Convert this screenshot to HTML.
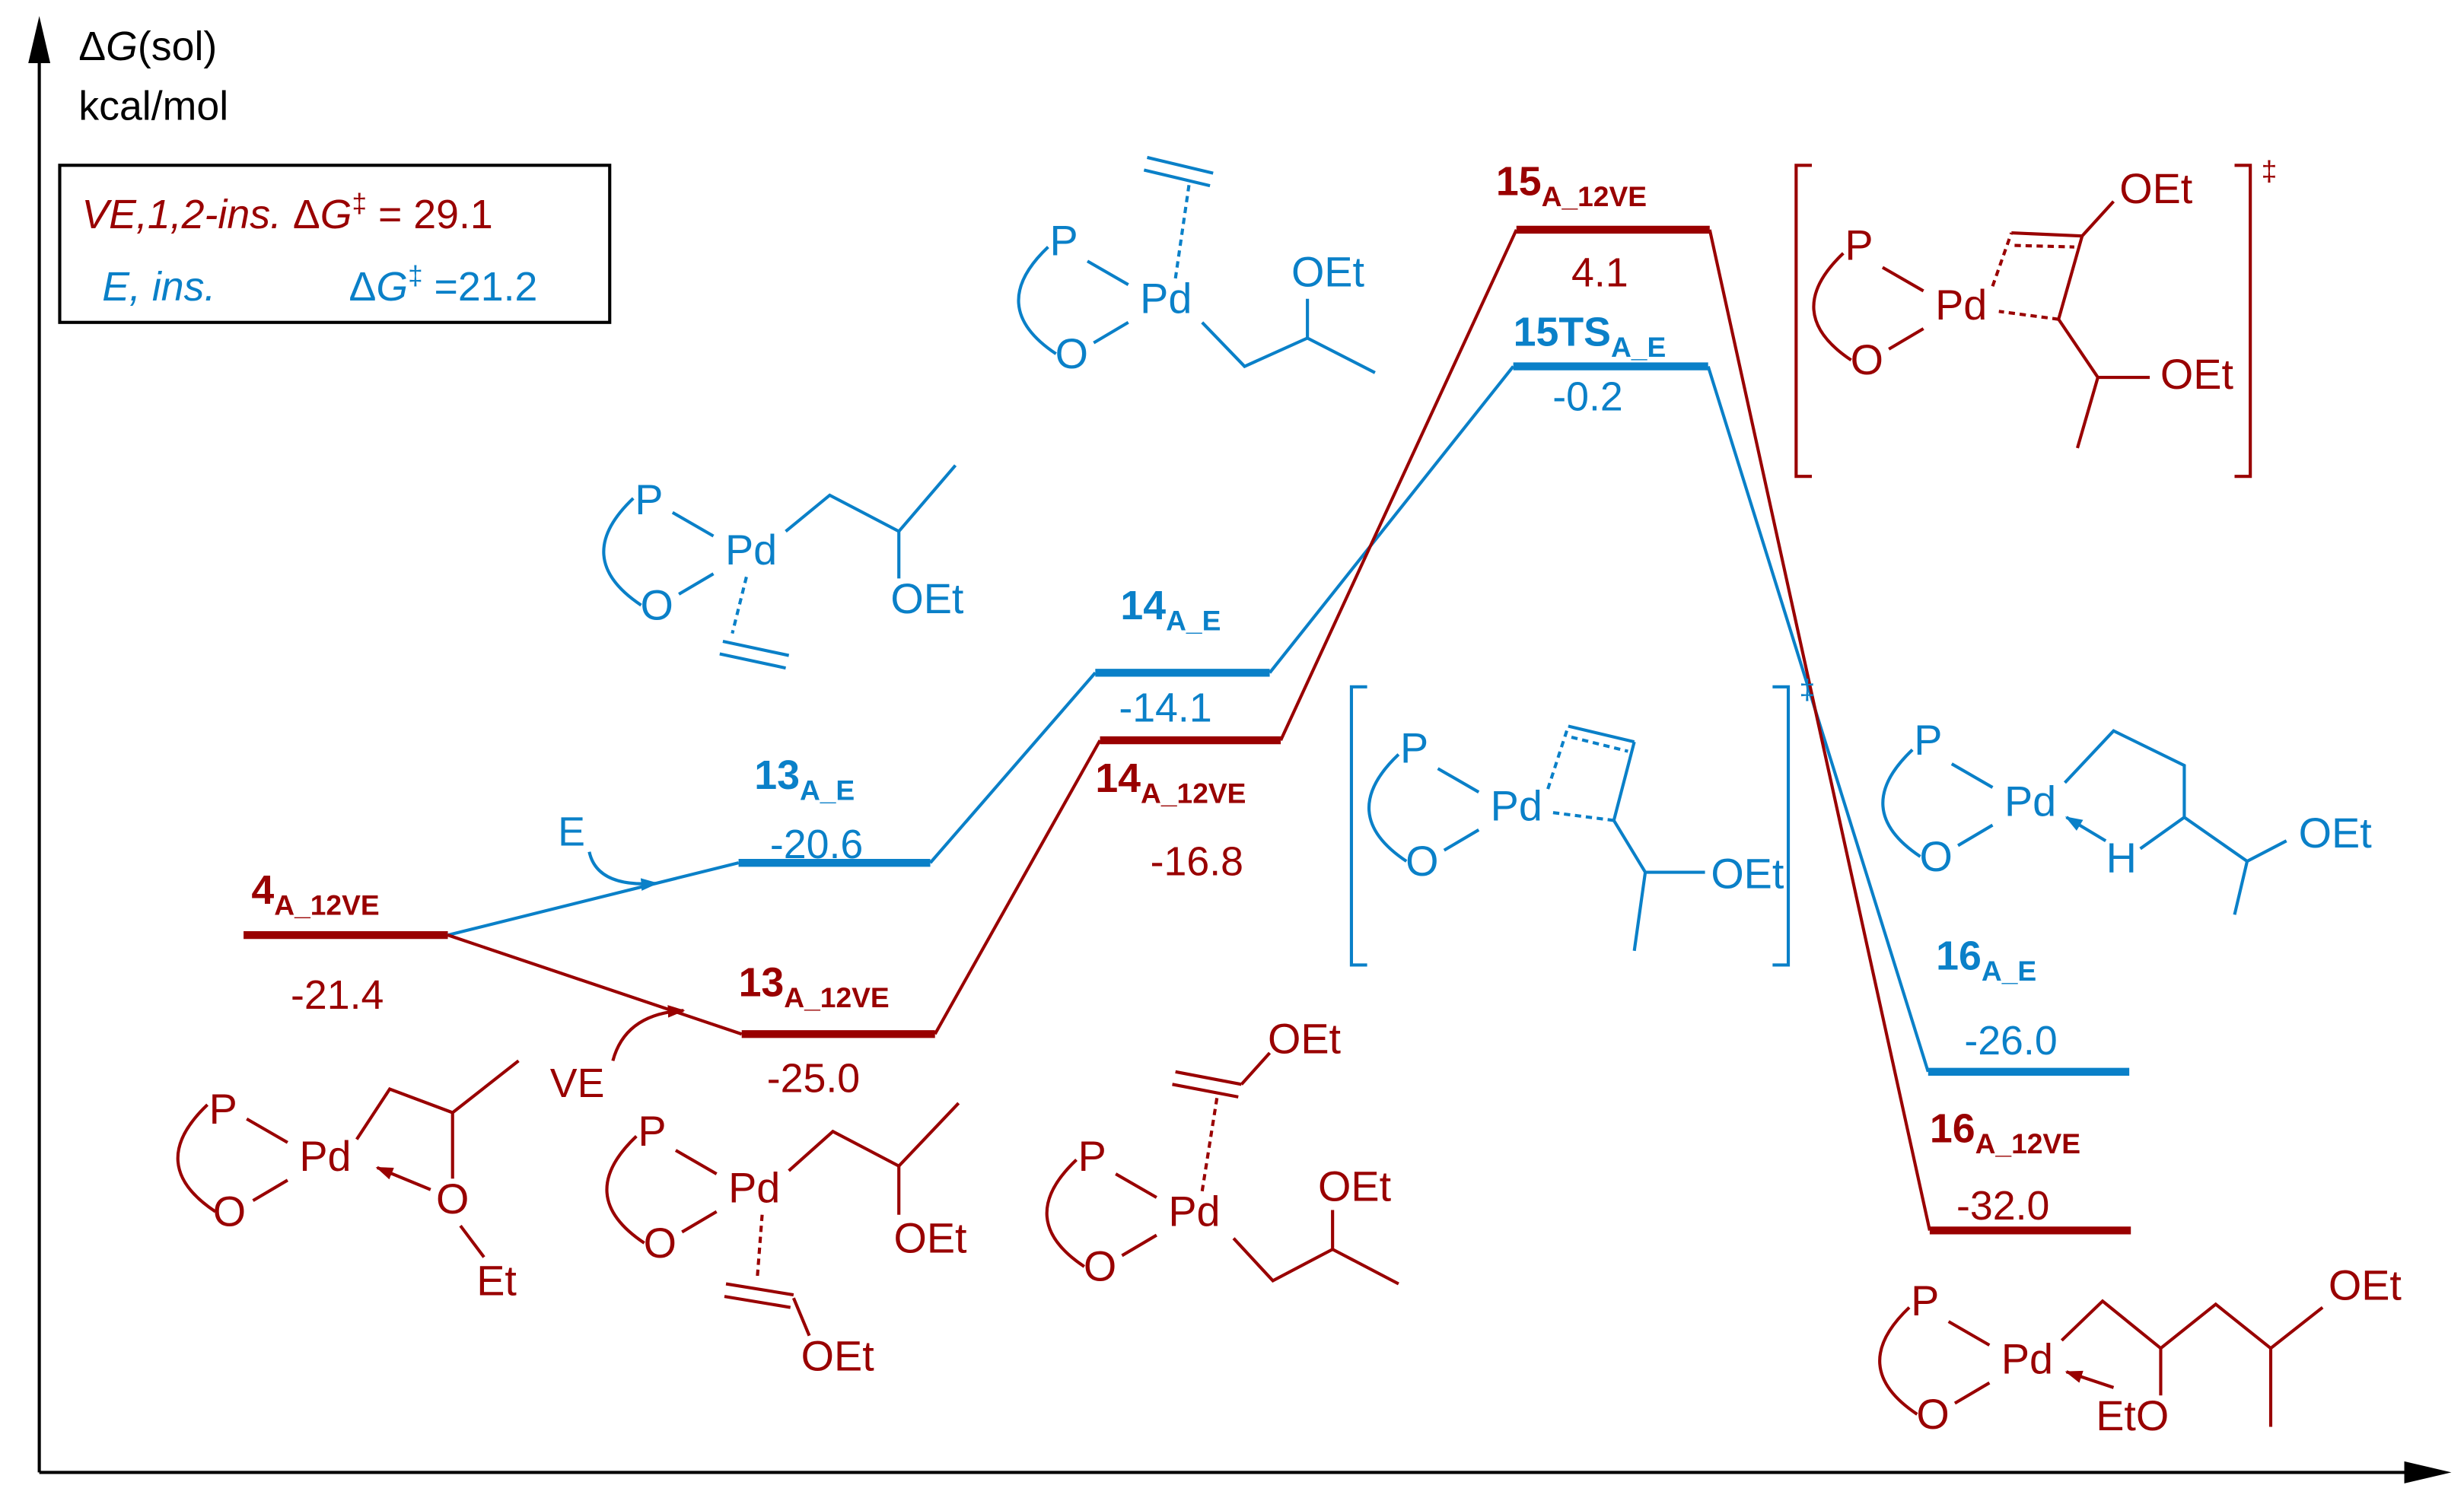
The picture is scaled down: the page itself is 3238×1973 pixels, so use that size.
<!DOCTYPE html>
<html><head><meta charset="utf-8"><style>html,body{margin:0;padding:0;background:#fff}svg{display:block}</style></head><body>
<svg width="3238" height="1973" viewBox="0 0 1568 955" xmlns="http://www.w3.org/2000/svg" font-family="Liberation Sans, sans-serif">
<defs>
<marker id="ar" markerWidth="12" markerHeight="10" refX="10" refY="5" orient="auto" markerUnits="userSpaceOnUse"><path d="M0,1 L11,5 L0,9 Z" fill="#990000"/></marker>
<marker id="ab" markerWidth="12" markerHeight="10" refX="10" refY="5" orient="auto" markerUnits="userSpaceOnUse"><path d="M0,1 L11,5 L0,9 Z" fill="#0a80c8"/></marker>
<g id="core" fill="none" stroke-width="2">
<path d="M-75,-35 Q-115,3 -70,33"/>
<line x1="-50" y1="-26" x2="-24" y2="-11"/>
<line x1="-46" y1="26" x2="-24" y2="13"/>
</g>
</defs>
<line x1="25" y1="30" x2="25" y2="937" stroke="#000" stroke-width="2"/>
<path d="M25,10 L18,40 L32,40 Z" fill="#000"/>
<line x1="25" y1="937" x2="1540" y2="937" stroke="#000" stroke-width="2"/>
<path d="M1560,937 L1530,930 L1530,944 Z" fill="#000"/>
<text x="50" y="38" font-size="26">Δ<tspan font-style="italic">G</tspan>(sol)</text>
<text x="50" y="76" font-size="26">kcal/mol</text>
<rect x="38" y="105" width="350" height="100" fill="none" stroke="#000" stroke-width="2"/>
<text x="52" y="145" font-size="26" fill="#990000"><tspan font-style="italic">VE,1,2-ins.</tspan> Δ<tspan font-style="italic">G</tspan><tspan font-size="17" dy="-10">‡</tspan><tspan dy="10"> = 29.1</tspan></text>
<text x="65" y="191" font-size="26" fill="#0a80c8"><tspan font-style="italic">E, ins.</tspan><tspan x="222">Δ</tspan><tspan font-style="italic">G</tspan><tspan font-size="17" dy="-10">‡</tspan><tspan dy="10"> =21.2</tspan></text>

<g fill="none" stroke-width="2">
<polyline stroke="#0a80c8" points="285,595 470,549"/>
<polyline stroke="#0a80c8" points="592,549 697,428"/>
<polyline stroke="#0a80c8" points="808,428 963,233"/>
<polyline stroke="#0a80c8" points="1087,233 1227,682"/>
<polyline stroke="#990000" points="285,595 472,658"/>
<polyline stroke="#990000" points="595,658 700,471"/>
<polyline stroke="#990000" points="815,471 965,146"/>
<polyline stroke="#990000" points="1088,146 1228,783"/>
</g>
<g stroke-width="5">
<line x1="155" y1="595" x2="285" y2="595" stroke="#990000"/>
<line x1="470" y1="549" x2="592" y2="549" stroke="#0a80c8"/>
<line x1="472" y1="658" x2="595" y2="658" stroke="#990000"/>
<line x1="697" y1="428" x2="808" y2="428" stroke="#0a80c8"/>
<line x1="700" y1="471" x2="815" y2="471" stroke="#990000"/>
<line x1="965" y1="146" x2="1088" y2="146" stroke="#990000"/>
<line x1="963" y1="233" x2="1087" y2="233" stroke="#0a80c8"/>
<line x1="1227" y1="682" x2="1355" y2="682" stroke="#0a80c8"/>
<line x1="1228" y1="783" x2="1356" y2="783" stroke="#990000"/>
</g>
<g font-size="26">
<text x="160" y="575" fill="#990000" font-weight="bold">4<tspan font-size="18" dy="7">A_12VE</tspan></text>
<text x="185" y="642" fill="#990000">-21.4</text>
<text x="480" y="502" fill="#0a80c8" font-weight="bold">13<tspan font-size="18" dy="7">A_E</tspan></text>
<text x="490" y="546" fill="#0a80c8">-20.6</text>
<text x="470" y="634" fill="#990000" font-weight="bold">13<tspan font-size="18" dy="7">A_12VE</tspan></text>
<text x="488" y="695" fill="#990000">-25.0</text>
<text x="713" y="394" fill="#0a80c8" font-weight="bold">14<tspan font-size="18" dy="7">A_E</tspan></text>
<text x="712" y="459" fill="#0a80c8">-14.1</text>
<text x="697" y="504" fill="#990000" font-weight="bold">14<tspan font-size="18" dy="7">A_12VE</tspan></text>
<text x="732" y="557" fill="#990000">-16.8</text>
<text x="952" y="124" fill="#990000" font-weight="bold">15<tspan font-size="18" dy="7">A_12VE</tspan></text>
<text x="1000" y="182" fill="#990000">4.1</text>
<text x="963" y="220" fill="#0a80c8" font-weight="bold">15TS<tspan font-size="18" dy="7">A_E</tspan></text>
<text x="988" y="261" fill="#0a80c8">-0.2</text>
<text x="1232" y="617" fill="#0a80c8" font-weight="bold">16<tspan font-size="18" dy="7">A_E</tspan></text>
<text x="1250" y="671" fill="#0a80c8">-26.0</text>
<text x="1228" y="727" fill="#990000" font-weight="bold">16<tspan font-size="18" dy="7">A_12VE</tspan></text>
<text x="1245" y="776" fill="#990000">-32.0</text>
</g>
<text x="355" y="538" font-size="26" fill="#0a80c8">E</text>
<path d="M375,542 Q380,565 418,562" fill="none" stroke="#0a80c8" stroke-width="2" marker-end="url(#ab)"/>
<text x="350" y="698" font-size="26" fill="#990000">VE</text>
<path d="M390,675 Q398,645 435,643" fill="none" stroke="#990000" stroke-width="2" marker-end="url(#ar)"/>

<g font-size="27" text-anchor="middle" dominant-baseline="middle">
<g fill="#990000" stroke="#990000">
<use href="#core" x="207" y="738"/>
<text x="142" y="708" stroke="none">P</text><text x="146" y="773" stroke="none">O</text><text x="207" y="738" stroke="none">Pd</text>
<polyline points="227,725 248,693 288,708 330,675" fill="none" stroke-width="2"/>
<line x1="288" y1="708" x2="288" y2="750" stroke-width="2"/>
<text x="288" y="765" stroke="none">O</text>
<line x1="293" y1="780" x2="308" y2="800" stroke-width="2"/>
<text x="316" y="817" stroke="none">Et</text>
<line x1="274" y1="757" x2="240" y2="743" stroke-width="2" marker-end="url(#ar)"/>
</g>
<g fill="#0a80c8" stroke="#0a80c8">
<use href="#core" x="478" y="352"/>
<text x="413" y="320" stroke="none">P</text><text x="418" y="387" stroke="none">O</text><text x="478" y="352" stroke="none">Pd</text>
<polyline points="500,338 528,315 572,338 608,296" fill="none" stroke-width="2"/>
<line x1="572" y1="338" x2="572" y2="368" stroke-width="2"/>
<text x="590" y="383" stroke="none">OEt</text>
<line x1="475" y1="367" x2="466" y2="403" stroke-width="2" stroke-dasharray="4,3"/>
<line x1="460" y1="408" x2="502" y2="417" stroke-width="2"/><line x1="458" y1="416" x2="500" y2="425" stroke-width="2"/>
</g>
<g fill="#0a80c8" stroke="#0a80c8">
<use href="#core" x="742" y="192"/>
<text x="677" y="155" stroke="none">P</text><text x="682" y="227" stroke="none">O</text><text x="742" y="192" stroke="none">Pd</text>
<line x1="748" y1="177" x2="757" y2="115" stroke-width="2" stroke-dasharray="4,3"/>
<line x1="730" y1="100" x2="772" y2="110" stroke-width="2"/><line x1="728" y1="108" x2="770" y2="118" stroke-width="2"/>
<polyline points="765,205 792,233 832,215 875,237" fill="none" stroke-width="2"/>
<line x1="832" y1="215" x2="832" y2="190" stroke-width="2"/>
<text x="845" y="175" stroke="none">OEt</text>
</g>
<g fill="#990000" stroke="#990000">
<use href="#core" x="480" y="758"/>
<text x="415" y="722" stroke="none">P</text><text x="420" y="793" stroke="none">O</text><text x="480" y="758" stroke="none">Pd</text>
<polyline points="502,745 530,720 572,742 610,702" fill="none" stroke-width="2"/>
<line x1="572" y1="742" x2="572" y2="773" stroke-width="2"/>
<text x="592" y="790" stroke="none">OEt</text>
<line x1="485" y1="773" x2="482" y2="812" stroke-width="2" stroke-dasharray="4,3"/>
<line x1="462" y1="817" x2="505" y2="824" stroke-width="2"/><line x1="461" y1="825" x2="503" y2="832" stroke-width="2"/>
<line x1="505" y1="826" x2="515" y2="850" stroke-width="2"/>
<text x="533" y="865" stroke="none">OEt</text>
</g>
<g fill="#990000" stroke="#990000">
<use href="#core" x="760" y="773"/>
<text x="695" y="738" stroke="none">P</text><text x="700" y="808" stroke="none">O</text><text x="760" y="773" stroke="none">Pd</text>
<line x1="765" y1="758" x2="775" y2="695" stroke-width="2" stroke-dasharray="4,3"/>
<line x1="748" y1="682" x2="790" y2="690" stroke-width="2"/><line x1="746" y1="690" x2="788" y2="698" stroke-width="2"/>
<line x1="790" y1="690" x2="808" y2="670" stroke-width="2"/>
<text x="830" y="663" stroke="none">OEt</text>
<polyline points="785,788 810,815 848,795 890,817" fill="none" stroke-width="2"/>
<line x1="848" y1="795" x2="848" y2="770" stroke-width="2"/>
<text x="862" y="757" stroke="none">OEt</text>
</g>
<g fill="#0a80c8" stroke="#0a80c8">
<polyline points="870,437 860,437 860,614 870,614" fill="none" stroke-width="2"/>
<polyline points="1128,437 1138,437 1138,614 1128,614" fill="none" stroke-width="2"/>
<text x="1150" y="440" stroke="none" font-size="18">‡</text>
<use href="#core" x="965" y="515"/>
<text x="900" y="478" stroke="none">P</text><text x="905" y="550" stroke="none">O</text><text x="965" y="515" stroke="none">Pd</text>
<line x1="985" y1="502" x2="998" y2="462" stroke-width="2" stroke-dasharray="4,3"/>
<line x1="998" y1="462" x2="1040" y2="472" stroke-width="2"/><line x1="1000" y1="469" x2="1036" y2="478" stroke-width="2" stroke-dasharray="4,3"/>
<line x1="1040" y1="472" x2="1027" y2="522" stroke-width="2"/>
<line x1="1027" y1="522" x2="988" y2="517" stroke-width="2" stroke-dasharray="4,3"/>
<polyline points="1027,522 1047,555 1085,555" fill="none" stroke-width="2"/>
<line x1="1047" y1="555" x2="1040" y2="605" stroke-width="2"/>
<text x="1112" y="558" stroke="none">OEt</text>
</g>
<g fill="#990000" stroke="#990000">
<polyline points="1153,105 1143,105 1143,303 1153,303" fill="none" stroke-width="2"/>
<polyline points="1422,105 1432,105 1432,303 1422,303" fill="none" stroke-width="2"/>
<text x="1444" y="110" stroke="none" font-size="18">‡</text>
<use href="#core" x="1248" y="196"/>
<text x="1183" y="158" stroke="none">P</text><text x="1188" y="231" stroke="none">O</text><text x="1248" y="196" stroke="none">Pd</text>
<line x1="1268" y1="182" x2="1280" y2="148" stroke-width="2" stroke-dasharray="4,3"/>
<line x1="1280" y1="148" x2="1325" y2="150" stroke-width="2"/><line x1="1282" y1="156" x2="1320" y2="157" stroke-width="2" stroke-dasharray="4,3"/>
<line x1="1325" y1="150" x2="1310" y2="203" stroke-width="2"/>
<line x1="1310" y1="203" x2="1272" y2="198" stroke-width="2" stroke-dasharray="4,3"/>
<line x1="1325" y1="150" x2="1345" y2="128" stroke-width="2"/>
<text x="1372" y="122" stroke="none">OEt</text>
<polyline points="1310,203 1335,240 1368,240" fill="none" stroke-width="2"/>
<line x1="1335" y1="240" x2="1322" y2="285" stroke-width="2"/>
<text x="1398" y="240" stroke="none">OEt</text>
</g>
<g fill="#0a80c8" stroke="#0a80c8">
<use href="#core" x="1292" y="512"/>
<text x="1227" y="473" stroke="none">P</text><text x="1232" y="547" stroke="none">O</text><text x="1292" y="512" stroke="none">Pd</text>
<polyline points="1314,498 1345,465 1390,487 1390,520 1430,548 1455,535" fill="none" stroke-width="2"/>
<line x1="1430" y1="548" x2="1422" y2="582" stroke-width="2"/>
<text x="1486" y="532" stroke="none">OEt</text>
<line x1="1390" y1="520" x2="1362" y2="540" stroke-width="2"/>
<text x="1350" y="548" stroke="none">H</text>
<line x1="1340" y1="535" x2="1315" y2="520" stroke-width="2" marker-end="url(#ab)"/>
</g>
<g fill="#990000" stroke="#990000">
<use href="#core" x="1290" y="867"/>
<text x="1225" y="830" stroke="none">P</text><text x="1230" y="902" stroke="none">O</text><text x="1290" y="867" stroke="none">Pd</text>
<polyline points="1312,853 1338,828 1375,858 1410,830 1445,858 1478,832" fill="none" stroke-width="2"/>
<line x1="1445" y1="858" x2="1445" y2="908" stroke-width="2"/>
<text x="1505" y="820" stroke="none">OEt</text>
<line x1="1375" y1="858" x2="1375" y2="888" stroke-width="2"/>
<text x="1357" y="903" stroke="none">EtO</text>
<line x1="1345" y1="883" x2="1315" y2="873" stroke-width="2" marker-end="url(#ar)"/>
</g>
</g>
</svg>
</body></html>
